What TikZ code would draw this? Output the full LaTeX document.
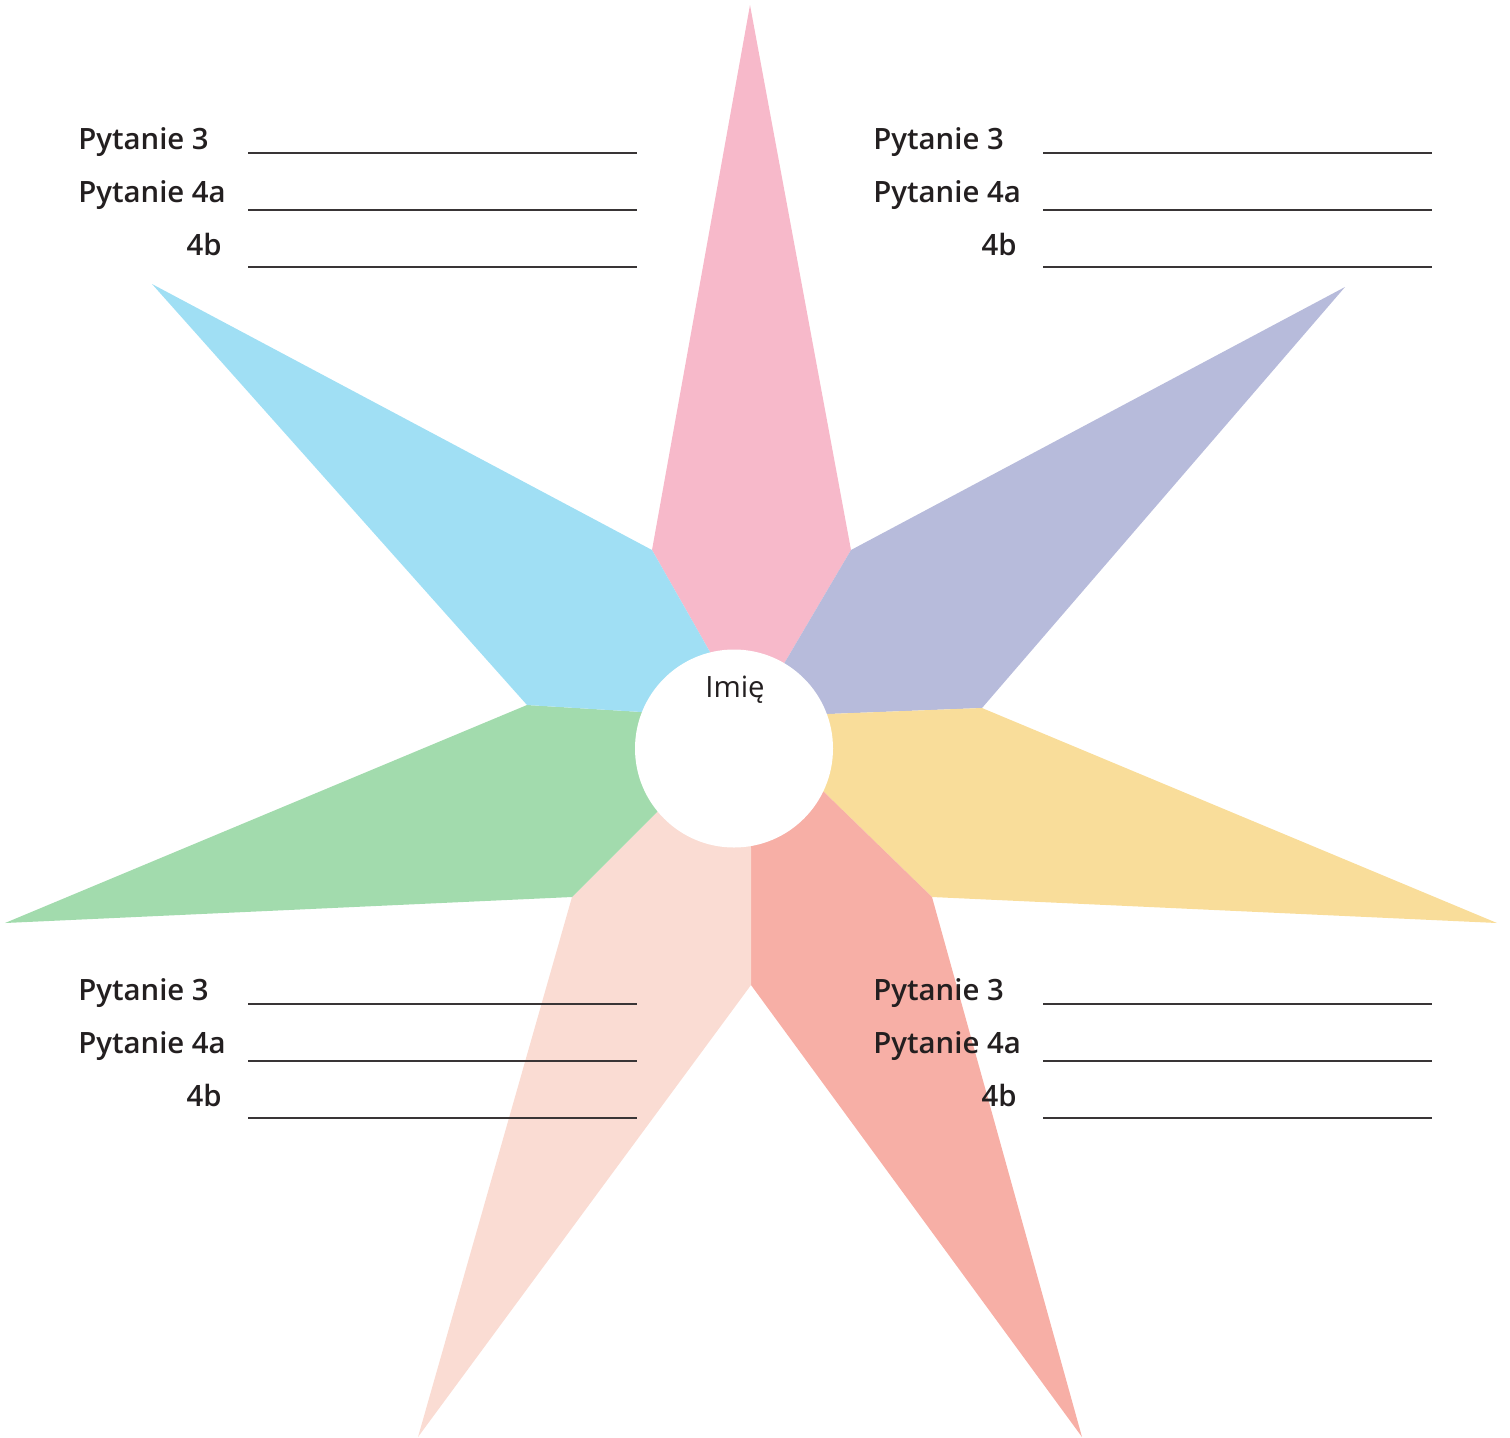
\documentclass[tikz,border=0pt]{standalone}
\usepackage{fontspec}
\setmainfont{Open Sans}
\usepackage{tikz}

% semibold face for the question labels, when the font has one
\IfFontExistsTF{Open Sans Semibold}{%
  \newfontfamily\labelfont{Open Sans Semibold}%
}{%
  \IfFontExistsTF{Open Sans SemiBold}{%
    \newfontfamily\labelfont{Open Sans SemiBold}%
  }{%
    \newcommand\labelfont{\bfseries}%
  }%
}

\definecolor{petalpink}{HTML}{F7B9CA}
\definecolor{petallilac}{HTML}{B7BBDB}
\definecolor{petalblue}{HTML}{A0DFF4}
\definecolor{petalyellow}{HTML}{F9DD9A}
\definecolor{petalsalmon}{HTML}{F7AFA6}
\definecolor{petalpeach}{HTML}{FADCD3}
\definecolor{petalgreen}{HTML}{A2DBAD}
\definecolor{inkdark}{HTML}{231F20}

\tikzset{
  question/.style={inner sep=0pt, text=inkdark, font=\fontsize{16.7}{20}\selectfont\labelfont},
  answerline/.style={draw=inkdark!90, line width=0.85pt},
}

\begin{document}
\begin{tikzpicture}[x=0.02cm, y=-0.02cm]
	\useasboundingbox (0,0) rectangle (1510,1437);

	% Draw the petals of the star
	\fill[petalpink] (652,550) -- (750,5) -- (851,550) -- (785,662) -- (734,748) -- (710,652) -- cycle; % top
	\fill[petallilac] (851,550) -- (1345,287) -- (982,708) -- (828,714) -- (734,748) -- (785,662) -- cycle; % upper right
	\fill[petalyellow] (828,714) -- (982,708) -- (1497,923) -- (932,897) -- (824,792) -- (734,748) -- cycle; % right
	\fill[petalsalmon] (824,792) -- (932,897) -- (1082,1437) -- (751,985) -- (751,848) -- (734,748) -- cycle; % lower right
	\fill[petalpeach] (751,848) -- (751,985) -- (418,1437) -- (572,897) -- (657,812) -- (734,748) -- cycle; % lower left
	\fill[petalgreen] (657,812) -- (572,897) -- (5,923) -- (527,705) -- (642,712) -- (734,748) -- cycle; % left
	\fill[petalblue] (642,712) -- (527,705) -- (152,284) -- (652,550) -- (710,652) -- (734,748) -- cycle; % upper left

	% Draw the centre circle with the name
	\fill[white] (734,748.5) circle [radius=99];
	\node[inner sep=0pt, text=inkdark, font=\fontsize{16.7}{20}\selectfont, anchor=base] (name) at (735,697) {Imię};

	% Questions, top left
	\node[question, anchor=base west] (tlq3) at (78,149) {Pytanie 3};
	\node[question, anchor=base west] (tlq4a) at (78,202) {Pytanie 4a};
	\node[question, anchor=base east] (tlq4b) at (222,255) {4b};
	\draw[answerline] (248,153) -- (637,153);
	\draw[answerline] (248,210) -- (637,210);
	\draw[answerline] (248,267) -- (637,267);

	% Questions, top right
	\node[question, anchor=base west] (trq3) at (873,149) {Pytanie 3};
	\node[question, anchor=base west] (trq4a) at (873,202) {Pytanie 4a};
	\node[question, anchor=base east] (trq4b) at (1017,255) {4b};
	\draw[answerline] (1043,153) -- (1432,153);
	\draw[answerline] (1043,210) -- (1432,210);
	\draw[answerline] (1043,267) -- (1432,267);

	% Questions, bottom left
	\node[question, anchor=base west] (blq3) at (78,1000) {Pytanie 3};
	\node[question, anchor=base west] (blq4a) at (78,1053) {Pytanie 4a};
	\node[question, anchor=base east] (blq4b) at (222,1106) {4b};
	\draw[answerline] (248,1004) -- (637,1004);
	\draw[answerline] (248,1061) -- (637,1061);
	\draw[answerline] (248,1118) -- (637,1118);

	% Questions, bottom right
	\node[question, anchor=base west] (brq3) at (873,1000) {Pytanie 3};
	\node[question, anchor=base west] (brq4a) at (873,1053) {Pytanie 4a};
	\node[question, anchor=base east] (brq4b) at (1017,1106) {4b};
	\draw[answerline] (1043,1004) -- (1432,1004);
	\draw[answerline] (1043,1061) -- (1432,1061);
	\draw[answerline] (1043,1118) -- (1432,1118);
\end{tikzpicture}
\end{document}
